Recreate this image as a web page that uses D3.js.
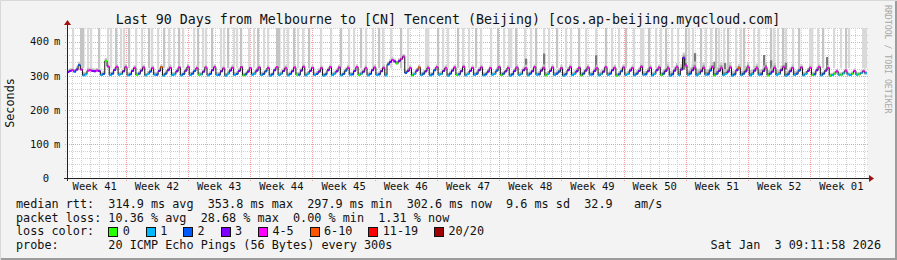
<!DOCTYPE html>
<html><head><meta charset="utf-8">
<script src="https://cdn.jsdelivr.net/npm/d3@7"></script>
<style>
body{margin:0;background:#f3f3f3}
svg{display:block}
text{font-family:"DejaVu Sans Mono",monospace}
</style>
</head><body>
<svg id="c" width="897" height="260"></svg>
<script>
// ---------------- DATA ----------------
const titleText = "Last 90 Days from Melbourne to [CN] Tencent (Beijing) [cos.ap-beijing.myqcloud.com]";
const endTime = "2026-01-03T09:11:58Z";
const rangeDays = 90;
const sampleHours = 6;
const yTickValues = [0, 100, 200, 300, 400];
const yTickLabels = ["0", "100", "200", "300", "400"];
const weekLabels = ["Week 41","Week 42","Week 43","Week 44","Week 45","Week 46","Week 47","Week 48","Week 49","Week 50","Week 51","Week 52","Week 01"];

// median RTT (ms), 4 samples per day
const median = [
311,314,316,312, 318,331,318,301, 304,315,316,314, 313,315,314,302, 305,343,327,302,
306,317,326,303, 305,313,325,301, 304,314,323,302, 306,315,324,301, 305,312,322,303,
303,314,325,300, 306,316,323,302, 304,313,324,301, 305,315,326,302, 306,314,322,303,
304,312,324,301, 305,316,325,302, 303,313,321,300, 306,315,323,302, 305,314,325,301,
304,312,322,303, 306,315,324,302, 305,313,323,300, 304,316,325,302, 306,314,322,301,
305,313,324,303, 303,315,326,301, 306,314,323,302, 305,312,322,300, 304,316,325,302,
306,313,324,301, 305,315,323,303, 304,314,325,302, 306,312,322,301, 305,316,324,302,
304,313,323,301, 333,340,346,342, 336,343,349,356, 308,314,322,301, 305,315,324,302,
306,313,323,301, 304,316,325,303, 305,314,322,300, 306,315,324,302, 304,313,326,301,
305,314,323,302, 306,316,324,301, 304,312,322,303, 305,315,325,302, 306,313,323,300,
304,314,324,302, 305,316,322,301, 306,313,325,303, 304,315,323,301, 305,314,324,302,
306,312,322,300, 304,316,325,302, 305,313,323,301, 306,315,324,303, 304,314,322,301,
305,312,325,302, 306,316,323,300, 304,313,324,302, 305,315,322,301, 306,314,326,303,
304,313,323,301, 305,316,324,302, 306,314,322,300, 304,315,325,302, 318,352,330,302,
306,316,324,301, 305,313,323,303, 304,315,325,301, 306,314,322,302, 305,312,324,300,
304,316,323,302, 306,313,325,301, 305,315,322,303, 304,314,324,301, 306,312,323,302,
305,316,325,300, 304,313,322,302, 306,315,324,301, 305,314,323,302, 304,316,325,301,
306,315,323,300, 302,306,313,303, 303,307,315,304, 302,306,314,303, 304,308,313,307
];
// lost pings of 20, per sample
const loss = [
3,3,5,2, 3,2,5,1, 1,5,5,3, 3,5,3,1, 2,0,5,1,
2,3,5,1, 1,3,5,1, 2,3,5,0, 2,3,5,1, 1,2,5,1,
2,3,10,1, 2,3,5,1, 1,3,5,1, 2,3,5,1, 2,2,5,0,
1,3,5,1, 2,3,5,1, 2,3,5,1, 1,3,5,1, 2,3,5,0,
2,3,5,1, 1,3,5,1, 2,2,5,1, 2,3,5,1, 1,3,5,1,
2,3,5,0, 2,3,5,1, 1,3,5,1, 2,3,5,1, 2,3,5,1,
1,3,5,1, 2,2,5,1, 2,3,5,0, 1,3,5,1, 2,3,5,1,
2,3,5,1, 2,3,5,3, 0,3,5,5, 2,3,5,0, 1,3,10,1,
2,3,5,1, 2,2,5,1, 1,3,5,1, 2,3,5,0, 2,3,5,1,
1,3,5,1, 2,3,5,1, 2,3,5,1, 1,2,5,0, 2,3,5,1,
2,3,5,1, 1,3,5,1, 2,3,5,1, 2,3,5,0, 1,3,5,1,
2,2,5,1, 2,3,5,1, 1,3,5,0, 2,3,5,1, 2,3,5,1,
1,3,5,1, 2,3,5,0, 2,2,5,1, 1,3,5,1, 2,3,5,1,
2,3,5,1, 1,3,5,0, 2,3,5,1, 2,3,5,1, 3,3,5,1,
2,3,5,1, 1,3,5,1, 2,2,5,0, 2,3,5,1, 1,3,5,1,
2,3,10,1, 2,3,5,1, 1,3,5,1, 2,3,5,0, 2,3,5,1,
1,3,5,1, 2,3,5,1, 2,2,5,1, 1,3,5,0, 2,3,5,1,
2,3,5,0, 1,0,5,1, 0,1,5,1, 1,0,5,1, 0,1,5,1
];
// smoke extent above median (ms), per day
const smokeSpread = [
8,10,8,8,9, 8,9,8,8,9, 8,9,8,9,8, 8,9,8,9,8,
8,9,8,8,9, 8,9,8,9,8, 8,9,8,9,8, 9,8,8,9,8,
9,8,9,8,9, 8,9,8,9,8, 9,10,9,10,9, 10,9,10,9,10,
10,9,10,9,10, 10,9,14,12,16, 18,16,15,18,14, 12,16,14,16,15,
14,12,10,9,10, 8,7,7,7,7
];
// outliers reaching above the graph top (day offset from start, duration hours)
const spikeDays = [
0.56,1.46,2.25,2.59,3.49,4.50,4.84,5.40,5.96,6.30,6.86,7.65,8.32,9.11,9.45,10.12,10.80,11.36,11.92,12.49,
12.94,14.17,14.62,15.19,15.52,16.20,17.21,17.55,18.00,18.67,19.01,19.46,20.36,20.92,21.37,22.05,22.50,23.51,24.30,24.75,
25.42,25.87,26.44,27.11,28.46,29.59,30.71,31.61,32.17,32.96,33.52,34.31,34.99,35.44,36.34,37.46,38.25,40.27,41.62,42.19,
42.75,43.87,44.44,45.11,45.90,46.46,47.59,48.37,49.05,49.61,50.40,51.41,52.09,52.65,53.55,54.11,55.01,56.02,56.59,57.49,
58.28,59.40,60.52,61.20,61.99,62.77,63.67,64.46,65.36,66.15,66.71,67.27,67.95,68.62,69.52,69.86,70.31,71.21,71.77,72.34,
72.90,73.24,73.80,74.25,75.15,75.71,76.05,77.17,77.74,79.09,79.43,79.87,80.43,80.77,81.56,82.24,83.47,84.37,84.94,86.17,
86.96,87.52,87.86,89.44
];
const spikeHours = [
6,12,6,6,6,6,6,6,6,6,6,6,6,6,6,6,6,6,6,6,
6,6,6,6,6,6,6,6,6,6,6,6,6,6,6,6,6,12,6,6,
6,6,6,6,6,6,6,6,6,6,6,6,6,6,6,6,6,12,6,6,
6,6,6,6,6,6,6,6,6,12,6,6,6,6,6,6,6,6,6,6,
6,6,6,6,6,6,6,12,6,6,6,6,6,6,6,6,6,6,6,6,
6,6,6,6,6,6,6,6,6,6,6,6,6,6,6,6,12,6,6,6,
6,6,6,18
];
// dense smoke bursts (day offset, top ms)
const burstDays = [51.52,53.55,59.40,69.30,70.53,72.67,73.91,78.30,79.09,80.77,85.39];
const burstTop  = [350,365,360,362,366,341,337,361,345,338,355];

const lossLabels = ["0","1","2","3","4-5","6-10","11-19","20/20"];
const lossMax    = [0,1,2,3,5,10,19,20];
const lossColors = ["#26ff00","#00b8ff","#0059ff","#7e00ff","#ff00ff","#ff5500","#ff0000","#a10000"];

const legendRtt  = "median rtt:  314.9 ms avg  353.8 ms max  297.9 ms min  302.6 ms now  9.6 ms sd  32.9   am/s";
const legendLoss = "packet loss: 10.36 % avg  28.68 % max  0.00 % min  1.31 % now";
const probeText  = "probe:       20 ICMP Echo Pings (56 Bytes) every 300s";
const dateText   = "Sat Jan  3 09:11:58 2026";

// ---------------- LAYOUT ----------------
const W = 897, H = 260;
const X0 = 67, X1 = 867, Y0 = 178, Y1 = 28;
const svg = d3.select("#c");
const end = new Date(endTime);
const start = new Date(end.getTime() - rangeDays * 864e5);
const x = d3.scaleUtc().domain([start, end]).range([X0, X1]);
const y = d3.scaleLinear().domain([0, 440]).range([Y0, Y1]);

// background + frame
svg.append("rect").attr("width", W).attr("height", H).attr("fill", "#f3f3f3");
svg.append("path").attr("d", `M0.5,${H}V0.5H${W}`).attr("stroke", "#d8d8d8").attr("fill", "none");
svg.append("path").attr("d", `M1,${H-1}H${W-1}V1`).attr("stroke", "#9c9c9c").attr("stroke-width", 2).attr("fill", "none");
svg.append("rect").attr("x", X0).attr("y", Y1).attr("width", X1 - X0).attr("height", Y0 - Y1).attr("fill", "#fff");

const grid = svg.append("g").attr("shape-rendering", "crispEdges");
d3.utcDay.range(start, end).forEach(d => {
  const xx = Math.round(x(d)) + 0.5;
  grid.append("line").attr("x1", xx).attr("x2", xx).attr("y1", Y1).attr("y2", Y0 + 2)
    .attr("stroke", "#cfcfcf").attr("stroke-dasharray", "1,1");
});
d3.range(20, 441, 20).forEach(v => {
  if (v % 100 === 0) return;
  const yy = Math.round(y(v)) + 0.5;
  grid.append("line").attr("x1", X0 - 2).attr("x2", X1 + 2).attr("y1", yy).attr("y2", yy)
    .attr("stroke", "#cfcfcf").attr("stroke-dasharray", "1,1");
});
yTickValues.slice(1).forEach(v => {
  const yy = Math.round(y(v)) + 0.5;
  grid.append("line").attr("x1", X0 - 2).attr("x2", X1 + 2).attr("y1", yy).attr("y2", yy)
    .attr("stroke", "#f0a0a0").attr("stroke-dasharray", "1,1");
});
const weeks = d3.utcSunday.range(start, end);
weeks.forEach(d => {
  const xx = Math.round(x(d)) + 0.5;
  grid.append("line").attr("x1", xx).attr("x2", xx).attr("y1", Y1).attr("y2", Y0 + 3)
    .attr("stroke", "#f0a0a0").attr("stroke-dasharray", "1,1");
});

// ---------------- DATA MARKS ----------------
const samples = median.map((m, i) => ({
  t0: new Date(start.getTime() + i * sampleHours * 36e5),
  t1: new Date(start.getTime() + (i + 1) * sampleHours * 36e5),
  m, loss: loss[i], spread: smokeSpread[Math.floor(i * sampleHours / 24)]
}));
svg.append("clipPath").attr("id", "pc").append("rect")
  .attr("x", X0 + 1).attr("y", Y1).attr("width", X1 - X0 - 1).attr("height", Y0 - Y1);
const plot = svg.append("g").attr("clip-path", "url(#pc)");

// outliers to top
spikeDays.forEach((d, i) => {
  const t0 = new Date(start.getTime() + d * 864e5);
  const t1 = new Date(t0.getTime() + spikeHours[i] * 36e5);
  plot.append("rect").attr("x", x(t0)).attr("y", Y1).attr("width", Math.max(1.5, x(t1) - x(t0)))
    .attr("height", y(322) - Y1).attr("fill", i % 3 === 1 ? "#c4c4c4" : "#d9d9d9");
});
// smoke bursts
burstDays.forEach((d, i) => {
  const t0 = new Date(start.getTime() + d * 864e5);
  const t1 = new Date(t0.getTime() + 6 * 36e5);
  plot.append("rect").attr("x", x(t0)).attr("y", y(burstTop[i])).attr("width", x(t1) - x(t0))
    .attr("height", y(318) - y(burstTop[i])).attr("fill", "#7a7a7a");
});

const pts = [];
samples.forEach(s => { pts.push([s.t0, s]); pts.push([s.t1, s]); });
plot.append("path").datum(pts)
  .attr("d", d3.area().x(p => x(p[0])).y0(p => y(p[1].m - 3)).y1(p => y(p[1].m + p[1].spread)))
  .attr("fill", "#c9c9c9");
plot.append("path").datum(pts)
  .attr("d", d3.area().x(p => x(p[0])).y0(p => y(p[1].m - 1)).y1(p => y(p[1].m + p[1].spread * 0.45)))
  .attr("fill", "#8e8e8e");
plot.append("path").datum(pts)
  .attr("d", d3.line().x(p => x(p[0])).y(p => y(p[1].m)))
  .attr("fill", "none").attr("stroke", "#111").attr("stroke-width", 1);
samples.forEach(s => {
  const ci = lossMax.findIndex(v => s.loss <= v);
  plot.append("line").attr("x1", x(s.t0)).attr("x2", x(s.t1)).attr("y1", y(s.m)).attr("y2", y(s.m))
    .attr("stroke", lossColors[ci]).attr("stroke-width", 2);
});

// ---------------- AXES ----------------
const ax = svg.append("g").attr("shape-rendering", "crispEdges");
ax.append("line").attr("x1", X0 - 3).attr("x2", X1 + 3).attr("y1", Y0 + 0.5).attr("y2", Y0 + 0.5).attr("stroke", "#222");
ax.append("line").attr("x1", X0 + 0.5).attr("x2", X0 + 0.5).attr("y1", Y0 + 3).attr("y2", Y1 - 4).attr("stroke", "#222");
svg.append("path").attr("d", `M${X1+2},${Y0-3}L${X1+7},${Y0+0.5}L${X1+2},${Y0+4}Z`).attr("fill", "#a01010");
svg.append("path").attr("d", `M${X0-3},${Y1-3}L${X0+0.5},${Y1-8}L${X0+4},${Y1-3}Z`).attr("fill", "#a01010");

yTickValues.forEach((v, i) => {
  svg.append("text").attr("x", 49).attr("y", y(v)).attr("dy", "0.36em")
    .attr("text-anchor", "end").attr("font-size", "10.5px").attr("fill", "#111").text(yTickLabels[i]);
  if (v > 0) svg.append("text").attr("x", 54).attr("y", y(v)).attr("dy", "0.36em")
    .attr("font-size", "10.5px").attr("fill", "#111").text("m");
});
const labelTimes = [new Date(d3.utcSunday.floor(start).getTime() + 3.5 * 864e5)];
while (labelTimes.length < weekLabels.length) labelTimes.push(new Date(labelTimes[labelTimes.length - 1].getTime() + 7 * 864e5));
labelTimes.forEach((t, i) => {
  svg.append("text").attr("x", x(t)).attr("y", 190).attr("text-anchor", "middle")
    .attr("font-size", "10.5px").attr("fill", "#111").text(weekLabels[i]);
});

svg.append("text").attr("x", 448).attr("y", 24).attr("text-anchor", "middle")
  .attr("font-size", "13.3px").attr("fill", "#111").text(titleText);
svg.append("text").attr("transform", "translate(14,103) rotate(-90)").attr("text-anchor", "middle")
  .attr("font-size", "11.8px").attr("fill", "#111").text("Seconds");
svg.append("text").attr("transform", "translate(885,5) rotate(90)")
  .attr("font-size", "8.2px").attr("fill", "#a8a8a8").text("RRDTOOL / TOBI OETIKER");

const LF = "11.8px";
const lg = svg.append("g").attr("fill", "#111").attr("font-size", LF);
lg.append("text").attr("x", 16).attr("y", 208).attr("xml:space", "preserve").style("white-space", "pre").text(legendRtt);
lg.append("text").attr("x", 16).attr("y", 221.5).attr("xml:space", "preserve").style("white-space", "pre").text(legendLoss);
lg.append("text").attr("x", 16).attr("y", 235).text("loss color:");
let bx = 108.3;
const CW = 7.1;
lossLabels.forEach((lab, i) => {
  lg.append("rect").attr("x", Math.round(bx) + 0.5).attr("y", 227.5).attr("width", 9).attr("height", 9)
    .attr("fill", lossColors[i]).attr("stroke", "#111").attr("stroke-width", 1);
  lg.append("text").attr("x", bx + 14.5).attr("y", 235).text(lab);
  bx += 30.3 + lab.length * CW;
});
lg.append("text").attr("x", 16).attr("y", 248.5).attr("xml:space", "preserve").style("white-space", "pre").text(probeText);
lg.append("text").attr("x", 881).attr("y", 248.5).attr("text-anchor", "end").attr("xml:space", "preserve").style("white-space", "pre").text(dateText);
</script>
</body></html>
